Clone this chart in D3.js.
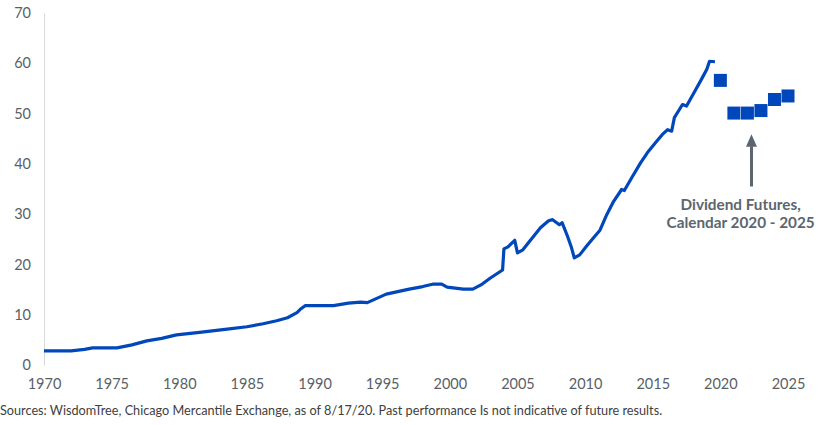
<!DOCTYPE html>
<html>
<head>
<meta charset="utf-8">
<script src="https://cdn.jsdelivr.net/npm/d3@7"></script>
<style>
  body { margin: 0; background: #fff; }
  text { font-family: Lato, "Open Sans", sans-serif; }
</style>
</head>
<body>
<div id="chart"></div>
<script>
// history of annual dividends (index points)
var histYears = [1970, 1971, 1972, 1973, 1973.6, 1975.4, 1976.5, 1977.6, 1978.7, 1979.8,
  1981.5, 1983.7, 1985, 1986.2, 1987.2, 1988, 1988.7, 1989, 1989.3, 1991.4,
  1992.5, 1993.4, 1993.9, 1995.3, 1997, 1998, 1998.8, 1999.4, 1999.8, 2001,
  2001.7, 2002.4, 2003, 2003.9, 2004, 2004.3, 2004.8, 2005, 2005.4, 2005.9,
  2006.7, 2007.3, 2007.6, 2008.1, 2008.3, 2008.7, 2009, 2009.2, 2009.6, 2010.1,
  2010.5, 2011.1, 2011.6, 2012.1, 2012.7, 2012.9, 2013.5, 2014.1, 2014.6, 2015.2,
  2015.7, 2016.1, 2016.4, 2016.6, 2017.2, 2017.5, 2018.1, 2018.6, 2019, 2019.2, 2019.6]
var histValues = [2.8, 2.8, 2.8, 3.1, 3.4, 3.4, 4.0, 4.8, 5.3, 6.0,
  6.5, 7.2, 7.6, 8.2, 8.8, 9.4, 10.4, 11.2, 11.8, 11.8,
  12.3, 12.5, 12.4, 14.1, 15.1, 15.6, 16.1, 16.1, 15.5, 15.1,
  15.1, 16.1, 17.3, 18.9, 23.1, 23.5, 24.8, 22.3, 22.9, 24.6,
  27.3, 28.7, 28.9, 27.9, 28.3, 25.6, 23.3, 21.3, 21.9, 23.6,
  24.9, 26.8, 29.9, 32.5, 34.9, 34.7, 37.5, 40.2, 42.2, 44.2,
  45.8, 46.8, 46.5, 49.2, 51.8, 51.5, 54.4, 56.8, 58.8, 60.4, 60.3]

// dividend futures, calendar years
var futYears = [2020, 2021, 2022, 2023, 2024, 2025]
var futValues = [56.6, 50.1, 50.1, 50.6, 52.8, 53.5]

var xTicks = [1970, 1975, 1980, 1985, 1990, 1995, 2000, 2005, 2010, 2015, 2020, 2025]
var yTicks = [0, 10, 20, 30, 40, 50, 60, 70]

var noteLines = ["Dividend Futures,", "Calendar 2020 - 2025"]
var sourceText = "Sources: WisdomTree, Chicago Mercantile Exchange, as of 8/17/20. Past performance Is not indicative of future results."

var width = 826, height = 425
var blue = "#0047bb", grey = "#5b6670"

var svg = d3.select("#chart").append("svg")
  .attr("width", width)
  .attr("height", height)

var x = d3.scaleLinear().domain([1970, 2025]).range([44, 788])
var y = d3.scaleLinear().domain([0, 70]).range([365, 13])

// y axis
var yAxis = svg.append("g")
  .attr("transform", "translate(" + x(1970) + ",0)")
  .call(d3.axisLeft(y).tickValues(yTicks).tickSize(0).tickSizeOuter(0).tickPadding(13))
yAxis.select(".domain").attr("stroke", "#d9d9d9")
yAxis.selectAll("text").attr("fill", "#5a5f66").style("font-size", "14.5px")

// x axis (labels only)
var xAxis = svg.append("g")
  .attr("transform", "translate(0," + y(0) + ")")
  .call(d3.axisBottom(x).tickValues(xTicks).tickFormat(d3.format("d")).tickSize(0).tickPadding(14))
xAxis.select(".domain").remove()
xAxis.selectAll("text").attr("fill", "#5a5f66").style("font-size", "14.5px")

var hist = histYears.map(function(d, i){ return {x: d, y: histValues[i]} })
var line = d3.line()
  .x(function(d){ return x(d.x) })
  .y(function(d){ return y(d.y) })

svg.append("path")
  .datum(hist)
  .attr("d", line)
  .attr("fill", "none")
  .attr("stroke", blue)
  .attr("stroke-width", 3.2)
  .attr("stroke-linejoin", "round")

var sq = 13
svg.selectAll(".fut")
  .data(futYears)
  .enter().append("rect")
  .attr("class", "fut")
  .attr("x", function(d){ return x(d) - sq / 2 })
  .attr("y", function(d, i){ return y(futValues[i]) - sq / 2 })
  .attr("width", sq)
  .attr("height", sq)
  .attr("fill", blue)

// annotation arrow
var ax = x(2022.3)
svg.append("line")
  .attr("x1", ax).attr("x2", ax)
  .attr("y1", y(35.5)).attr("y2", y(43.5))
  .attr("stroke", grey)
  .attr("stroke-width", 3)
svg.append("path")
  .attr("d", "M" + ax + "," + y(45.9) + "L" + (ax + 5.5) + "," + y(43.4) + "L" + (ax - 5.5) + "," + y(43.4) + "Z")
  .attr("fill", grey)

svg.append("text")
  .attr("x", x(2021.5))
  .attr("y", 210)
  .attr("text-anchor", "middle")
  .attr("fill", grey)
  .style("font-size", "15.3px")
  .style("font-weight", "bold")
  .selectAll("tspan")
  .data(noteLines)
  .enter().append("tspan")
  .attr("x", x(2021.5))
  .attr("dy", function(d, i){ return i ? 17.5 : 0 })
  .text(function(d){ return d })

svg.append("text")
  .attr("x", 0)
  .attr("y", 415)
  .attr("fill", "#404040")
  .style("font-size", "12.7px")
  .text(sourceText)
</script>
</body>
</html>
